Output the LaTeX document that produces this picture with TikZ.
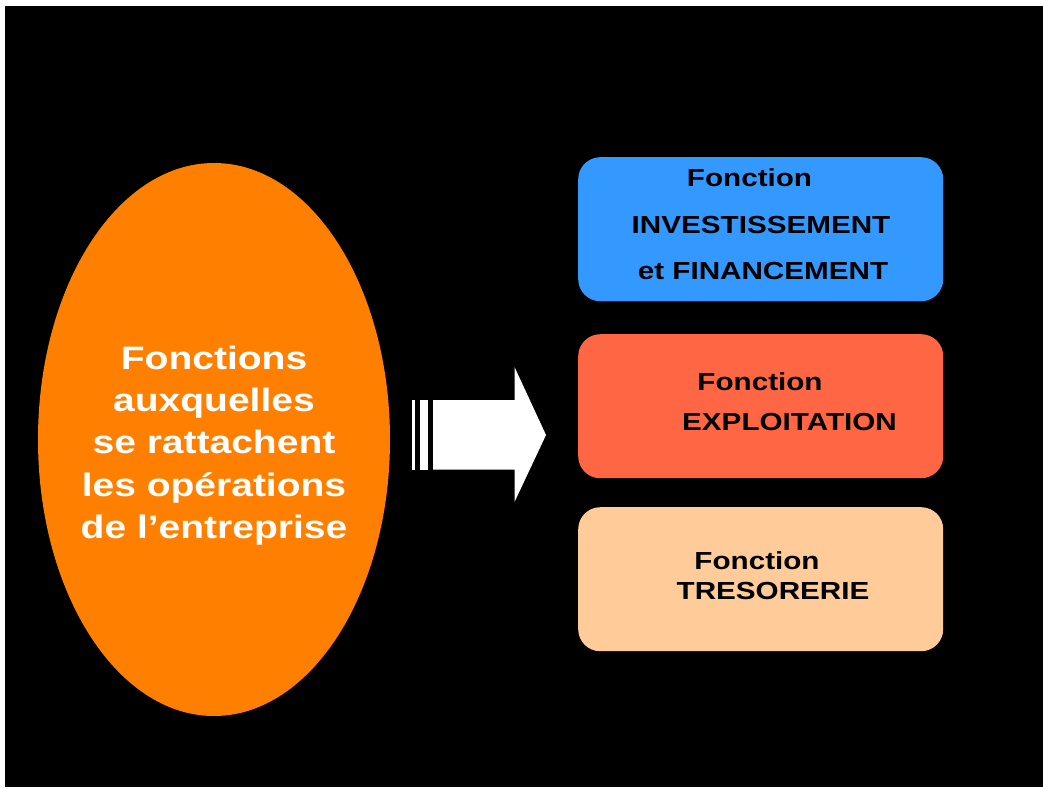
\documentclass[tikz,border=0pt]{standalone}
\usepackage{fontspec}
\setmainfont{Liberation Sans}[FakeStretch=1.2]
\usepackage{tikz}
\usetikzlibrary{shapes.geometric}

\definecolor{ovale}{HTML}{FF8000}
\definecolor{bleu}{HTML}{3399FF}
\definecolor{rouge}{HTML}{FF6644}
\definecolor{peche}{HTML}{FFCC99}

\tikzset{
  fonction/.style = {rectangle, rounded corners=22pt, minimum width=365pt, minimum height=144pt, inner sep=0pt, anchor=north west},
  titre/.style = {anchor=base, black, inner sep=0pt, font=\bfseries\fontsize{24.7}{29}\selectfont}
}

\begin{document}
\begin{tikzpicture}[x=1pt, y=-1pt]

\useasboundingbox (0,0) rectangle (1043,787);
\fill[white] (0,0) rectangle (1043,787);
\fill[black] (5,6) rectangle (1043,787);

\node[ellipse, fill = ovale, minimum width = 352pt, minimum height = 553pt, inner sep = 0pt] (operations) at (214,439.5) {};
\node[align = center, text = white, inner sep = 0pt, font = \bfseries\fontsize{32.5}{42.25}\selectfont] (operationsTexte) at (214,445.5) {Fonctions\\auxquelles\\se rattachent\\les opérations\\de l’entreprise};

\fill[white] (412,400) rectangle (415,469.5);
\fill[white] (420,400) rectangle (427.5,469.5);
\fill[white] (433,400) -- (514.5,400) -- (514.5,367) -- (546,435) -- (514.5,502) -- (514.5,469.5) -- (433,469.5) -- cycle;

\node[fonction, fill = bleu] (invest) at (578,157) {};
\node[fonction, fill = rouge] (exploit) at (578,334) {};
\node[fonction, fill = peche] (treso) at (578,507) {};

\node[titre] (invest1) at (749.5,186) {Fonction};
\node[titre] (invest2) at (761,233) {INVESTISSEMENT};
\node[titre] (invest3) at (763,279) {et FINANCEMENT};

\node[titre] (exploit1) at (760,390) {Fonction};
\node[titre] (exploit2) at (789.5,430.5) {EXPLOITATION};

\node[titre] (treso1) at (757,569.5) {Fonction};
\node[titre] (treso2) at (773,599.5) {TRESORERIE};

\end{tikzpicture}
\end{document}
